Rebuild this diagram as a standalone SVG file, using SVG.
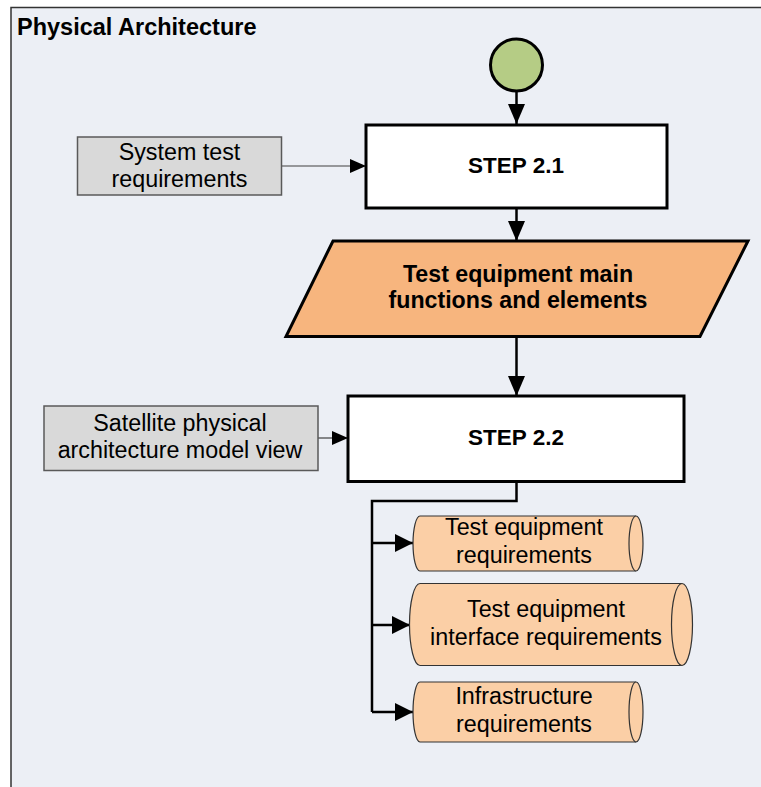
<svg xmlns="http://www.w3.org/2000/svg" width="761" height="787" viewBox="0 0 761 787">
<defs>
<style>
text{font-family:"Liberation Sans",Arial,sans-serif;fill:#000;text-anchor:middle}
.b{font-weight:bold}
.r{font-size:23.3px}
.proc{fill:#fff;stroke:#000;stroke-width:3}
.inp{fill:#d9d9d9;stroke:#595959;stroke-width:1.5}
.cyl{fill:#fbcfa6;stroke:#333;stroke-width:1.2}
.thick{fill:none;stroke:#000;stroke-width:2.5}
.thin{fill:none;stroke:#404040;stroke-width:1.2}
</style>
<marker id="ah" viewBox="0 0 20 17" refX="20" refY="8.5" markerWidth="20" markerHeight="17" markerUnits="userSpaceOnUse" orient="auto">
<path d="M0,0 L20,8.5 L0,17 Z" fill="#000"/>
</marker>
<marker id="ahb" viewBox="0 0 18 18" refX="18" refY="9" markerWidth="18" markerHeight="18" markerUnits="userSpaceOnUse" orient="auto">
<path d="M0,0 L18,9 L0,18 Z" fill="#000"/>
</marker>
<marker id="ahs" viewBox="0 0 16 14" refX="16" refY="7" markerWidth="16" markerHeight="14" markerUnits="userSpaceOnUse" orient="auto">
<path d="M0,0 L16,7 L0,14 Z" fill="#000"/>
</marker>
</defs>
<rect x="0" y="0" width="761" height="787" fill="#fff"/>
<g id="frame">
<rect x="11" y="7.5" width="770" height="800" fill="#eceff5" stroke="#333" stroke-width="1.5"/>
<text x="17" y="35" class="b" style="font-size:23.5px;text-anchor:start">Physical Architecture</text>
</g>
<g id="connectors">
<line x1="516.5" y1="92" x2="516.5" y2="124" class="thick" marker-end="url(#ah)"/>
<line x1="281" y1="166" x2="366" y2="166" class="thin" marker-end="url(#ahs)"/>
<line x1="516.5" y1="209" x2="516.5" y2="241" class="thick" marker-end="url(#ah)"/>
<line x1="516.5" y1="338" x2="516.5" y2="396" class="thick" marker-end="url(#ah)"/>
<line x1="318" y1="438" x2="348" y2="438" class="thin" marker-end="url(#ahs)"/>
<path d="M516.5,482 V501 H372 V712" class="thick"/>
<line x1="372" y1="543" x2="413" y2="543" class="thick" marker-end="url(#ahb)"/>
<line x1="372" y1="625" x2="410" y2="625" class="thick" marker-end="url(#ahb)"/>
<line x1="372" y1="712" x2="413" y2="712" class="thick" marker-end="url(#ahb)"/>
</g>
<g id="start">
<circle cx="516.5" cy="65" r="26" fill="#b5cc85" stroke="#000" stroke-width="3"/>
</g>
<g id="step21">
<rect x="366" y="125" width="301" height="83" class="proc"/>
<text x="516" y="173" class="b" style="font-size:22.5px">STEP 2.1</text>
</g>
<g id="systest">
<rect x="77.5" y="137" width="204" height="58" class="inp"/>
<text x="179.5" y="159.5" class="r">System test</text>
<text x="179.5" y="186.5" class="r">requirements</text>
</g>
<g id="mainfunc">
<polygon points="333,241 748,241 700,336.5 286,336.5" fill="#f7b57e" stroke="#000" stroke-width="3"/>
<text x="518" y="281.5" class="b" style="font-size:23.2px">Test equipment main</text>
<text x="518" y="308" class="b" style="font-size:23.2px">functions and elements</text>
</g>
<g id="satview">
<rect x="44" y="406" width="274" height="64.5" class="inp"/>
<text x="180" y="430.7" class="r">Satellite physical</text>
<text x="180" y="458.3" class="r">architecture model view</text>
</g>
<g id="step22">
<rect x="348" y="396" width="336" height="85.5" class="proc"/>
<text x="516" y="445" class="b" style="font-size:22.5px">STEP 2.2</text>
</g>
<g id="ter">
<path d="M420,516 H636 A7,27.5 0 0 1 636,571 H420 A7,27.5 0 0 1 420,516 Z" class="cyl"/>
<path d="M636,516 A7,27.5 0 0 0 636,571" class="cyl" fill="none"/>
<text x="524" y="535" class="r">Test equipment</text>
<text x="524" y="563.3" class="r">requirements</text>
</g>
<g id="teir">
<path d="M420,583.5 H682 A10.5,41 0 0 1 682,665.5 H420 A10.5,41 0 0 1 420,583.5 Z" class="cyl"/>
<path d="M682,583.5 A10.5,41 0 0 0 682,665.5" class="cyl" fill="none"/>
<text x="546" y="616.7" class="r">Test equipment</text>
<text x="546" y="645" class="r">interface requirements</text>
</g>
<g id="infra">
<path d="M420,682 H636 A7,30 0 0 1 636,742 H420 A7,30 0 0 1 420,682 Z" class="cyl"/>
<path d="M636,682 A7,30 0 0 0 636,742" class="cyl" fill="none"/>
<text x="524" y="704" class="r">Infrastructure</text>
<text x="524" y="731.7" class="r">requirements</text>
</g>
</svg>
